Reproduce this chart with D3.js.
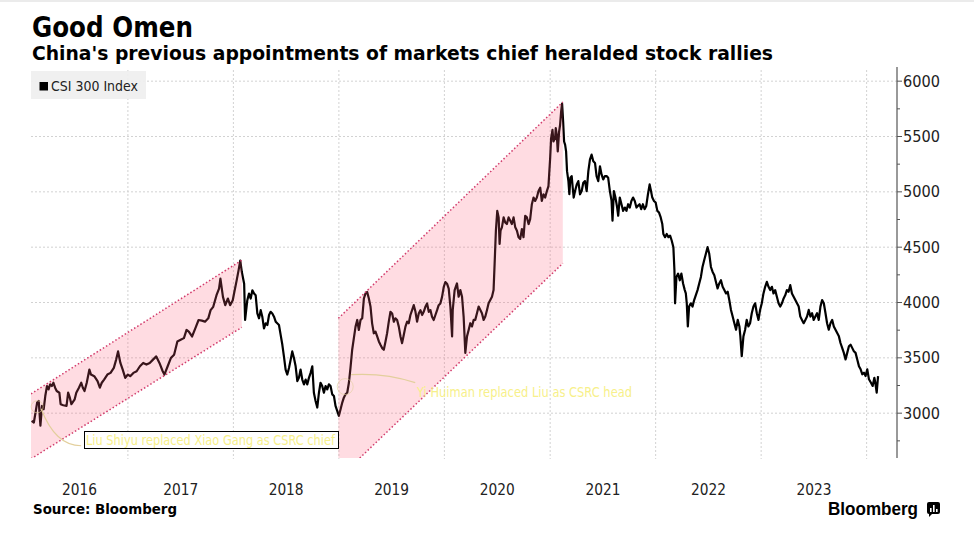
<!DOCTYPE html>
<html><head><meta charset="utf-8">
<script src="https://cdn.jsdelivr.net/npm/d3@7"></script>
<style>body{margin:0;background:#fff}svg{display:block}</style>
</head><body>
<svg id="chart" width="974" height="556"></svg>
<script>
// ---- DATA (decimal years / CSI 300 index values) ----
const years = [2016.090,2016.111,2016.127,2016.142,2016.157,2016.173,2016.188,2016.204,2016.219,2016.235,2016.250,2016.265,2016.281,2016.296,2016.312,2016.327,2016.352,2016.364,2016.389,2016.420,2016.435,2016.451,2016.466,2016.497,2016.512,2016.537,2016.559,2016.574,2016.590,2016.611,2016.636,2016.651,2016.682,2016.713,2016.735,2016.753,2016.775,2016.806,2016.836,2016.867,2016.889,2016.907,2016.929,2016.951,2016.975,
2017.000,2017.022,2017.052,2017.083,2017.114,2017.145,2017.176,2017.207,2017.238,2017.269,2017.299,2017.330,2017.346,2017.377,2017.407,2017.438,2017.469,2017.500,2017.531,2017.556,2017.577,2017.608,2017.639,2017.670,2017.701,2017.731,2017.762,2017.784,2017.809,2017.840,2017.864,2017.877,2017.901,2017.923,2017.948,2017.969,2017.994,
2018.009,2018.031,2018.049,2018.065,2018.080,2018.102,2018.111,2018.132,2018.148,2018.164,2018.180,2018.196,2018.211,2018.227,2018.243,2018.259,2018.274,2018.290,2018.306,2018.322,2018.338,2018.353,2018.369,2018.385,2018.401,2018.416,2018.432,2018.448,2018.464,2018.479,2018.495,2018.511,2018.527,2018.543,2018.558,2018.574,2018.590,2018.606,2018.621,2018.637,2018.653,2018.669,2018.685,2018.700,2018.716,2018.732,2018.748,2018.763,2018.779,2018.795,2018.811,2018.826,2018.842,2018.858,2018.874,2018.890,2018.905,2018.921,2018.937,2018.953,2018.968,2018.984,
2019.000,2019.016,2019.032,2019.047,2019.063,2019.079,2019.095,2019.110,2019.126,2019.142,2019.158,2019.174,2019.189,2019.205,2019.221,2019.237,2019.252,2019.268,2019.284,2019.300,2019.315,2019.331,2019.347,2019.363,2019.379,2019.394,2019.410,2019.426,2019.442,2019.457,2019.473,2019.489,2019.505,2019.521,2019.536,2019.552,2019.568,2019.584,2019.599,2019.615,2019.631,2019.647,2019.662,2019.678,2019.694,2019.710,2019.726,2019.741,2019.757,2019.773,2019.789,2019.804,2019.820,2019.836,2019.852,2019.868,2019.883,2019.899,2019.915,2019.931,2019.946,2019.962,2019.978,2019.994,
2020.009,2020.025,2020.041,2020.057,2020.073,2020.079,2020.097,2020.119,2020.135,2020.151,2020.167,2020.182,2020.198,2020.214,2020.230,2020.245,2020.261,2020.277,2020.292,2020.308,2020.324,2020.340,2020.355,2020.371,2020.387,2020.403,2020.418,2020.434,2020.450,2020.465,2020.475,2020.487,2020.500,2020.513,2020.522,2020.531,2020.544,2020.560,2020.575,2020.591,2020.607,2020.623,2020.638,2020.654,2020.670,2020.686,2020.701,2020.717,2020.733,2020.748,2020.764,2020.780,2020.796,2020.811,2020.827,2020.843,2020.858,2020.874,2020.890,2020.906,2020.921,2020.937,2020.953,2020.969,2020.984,
2021.000,2021.009,2021.022,2021.031,2021.047,2021.053,2021.063,2021.072,2021.085,2021.094,2021.104,2021.113,2021.123,2021.132,2021.142,2021.151,2021.160,2021.173,2021.182,2021.192,2021.204,2021.214,2021.223,2021.236,2021.252,2021.267,2021.283,2021.299,2021.314,2021.330,2021.346,2021.362,2021.377,2021.393,2021.409,2021.425,2021.440,2021.456,2021.472,2021.487,2021.503,2021.519,2021.535,2021.550,2021.566,2021.582,2021.591,2021.604,2021.619,2021.635,2021.645,2021.660,2021.676,2021.692,2021.708,2021.723,2021.739,2021.755,2021.770,2021.786,2021.802,2021.818,2021.832,2021.848,2021.863,2021.879,2021.895,2021.911,2021.927,2021.943,2021.956,2021.968,2021.984,
2022.000,2022.016,2022.032,2022.048,2022.063,2022.073,2022.089,2022.105,2022.121,2022.137,2022.152,2022.168,2022.178,2022.184,2022.197,2022.213,2022.229,2022.244,2022.260,2022.276,2022.286,2022.295,2022.305,2022.317,2022.333,2022.349,2022.365,2022.381,2022.397,2022.413,2022.429,2022.444,2022.460,2022.476,2022.492,2022.508,2022.524,2022.540,2022.556,2022.571,2022.587,2022.603,2022.619,2022.635,2022.651,2022.667,2022.683,2022.698,2022.714,2022.730,2022.746,2022.762,2022.778,2022.794,2022.803,2022.816,2022.832,2022.848,2022.863,2022.879,2022.895,2022.911,2022.927,2022.943,2022.959,2022.975,2022.990,
2023.006,2023.022,2023.038,2023.054,2023.070,2023.086,2023.102,2023.117,2023.133,2023.149,2023.165,2023.181,2023.197,2023.213,2023.229,2023.244,2023.260,2023.276,2023.292,2023.308,2023.324,2023.340,2023.356,2023.371,2023.387,2023.403,2023.419,2023.435,2023.451,2023.467,2023.483,2023.498,2023.514,2023.530,2023.546,2023.562,2023.578,2023.594,2023.610,2023.625,2023.641,2023.657,2023.673,2023.689,2023.705,2023.721,2023.737,2023.752,2023.768,2023.784,2023.800,2023.816,2023.832,2023.848,2023.863,2023.879,2023.895,2023.911,2023.927,2023.943,2023.959,2023.975,2023.990,
2024.006,2024.022,2024.041,2024.057,2024.073,2024.082,2024.095,2024.108];

const values = [2930,2916,3006,3096,3110,2887,3066,3036,3155,3245,3215,3260,3245,3275,3230,3200,3185,3081,3072,3066,3185,3140,3081,3125,3185,3230,3275,3230,3200,3275,3394,3349,3334,3290,3230,3275,3304,3349,3364,3409,3484,3558,3454,3394,3319,
3349,3334,3364,3379,3424,3454,3439,3454,3484,3513,3454,3379,3349,3424,3498,3528,3648,3663,3678,3752,3737,3693,3767,3842,3836,3827,3857,3931,3961,4066,4125,4215,4051,3976,4036,3976,4021,
4095,4200,4290,4379,4275,4170,3842,4021,4081,4036,4110,4081,4066,3901,3857,3931,3872,3767,3812,3797,3887,3916,3901,3872,3827,3812,3797,3707,3618,3513,3394,3349,3409,3484,3558,3498,3424,3290,3319,3394,3304,3260,3304,3260,3319,3364,3424,3185,3110,3051,3185,3275,3245,3185,3245,3215,3260,3245,3170,3155,3066,3021,
2976,3036,3096,3140,3170,3185,3275,3409,3573,3678,3782,3842,3752,3842,3857,4036,4081,4095,4036,3961,3812,3722,3737,3693,3648,3618,3588,3573,3648,3722,3827,3916,3901,3827,3857,3842,3782,3693,3633,3707,3782,3827,3812,3887,3931,3976,3916,3827,3901,3931,3887,3916,3961,3991,3916,3931,3872,3842,3887,3931,3976,3991,4051,4140,
4185,4170,4125,3961,3693,3933,4112,4172,4052,4112,4052,3873,3545,3694,3754,3813,3784,3843,3843,3903,3963,3933,3903,3843,3873,3933,3993,4022,4052,4112,4351,4649,4828,4769,4530,4649,4679,4769,4724,4709,4769,4739,4709,4769,4679,4649,4590,4575,4664,4590,4784,4769,4709,4754,4888,4948,4918,4948,5007,5037,4918,4978,4948,5007,5052,
5306,5485,5560,5455,5485,5575,5515,5366,5545,5604,5724,5798,5634,5455,5425,5366,5187,5097,4978,5127,5142,5037,4948,5007,5067,5097,4978,5007,5082,5097,5007,5187,5291,5336,5276,5261,5142,5097,5231,5157,5112,5142,5142,5127,5007,4918,4739,5007,4948,4858,4784,4948,4888,4828,4858,4828,4888,4858,4918,4948,4918,4858,4873,4888,4843,4888,4843,4873,4978,5067,5007,4948,4918,
4903,4828,4813,4769,4709,4619,4590,4619,4590,4604,4560,4500,4291,3993,4231,4261,4201,4261,4172,4112,4082,3993,3784,3963,3993,3963,4022,4067,4112,4172,4231,4321,4381,4440,4500,4440,4321,4276,4246,4187,4127,4172,4201,4142,4112,4082,4097,4022,3933,3873,3813,3754,3843,3784,3694,3515,3694,3754,3843,3784,3813,3903,3963,3993,3903,3843,3933,
3993,4082,4142,4187,4142,4112,4142,4082,4112,4052,3993,3963,3993,4037,4067,4112,4097,4157,4082,4052,4022,3993,3963,3873,3843,3813,3843,3873,3933,3873,3903,3843,3873,3903,3843,3963,4022,3993,3903,3813,3754,3813,3843,3784,3754,3724,3694,3634,3590,3545,3485,3545,3604,3619,3590,3560,3545,3485,3425,3396,3351,3366,3336,
3396,3306,3275,3246,3320,3275,3186,3335];

// rally channels (two shaded periods)
const rallyStart       = [2016.084, 2018.995];
const rallyEnd         = [2018.080, 2021.120];
const rallyTopStart    = [3174, 3857];
const rallyTopEnd      = [4383, 5812];
const rallyBottomStart = [2588, 2409];
const rallyBottomEnd   = [3776, 4354];

const yTicks = [3000, 3500, 4000, 4500, 5000, 5500, 6000];
const yMinorTicks = [2750, 3250, 3750, 4250, 4750, 5250, 5750];
const yearLabels = [2016, 2017, 2018, 2019, 2020, 2021, 2022, 2023];
const seriesName = "CSI 300 Index";
const annotations = [
  {text: "Liu Shiyu replaced Xiao Gang as CSRC chief", at: 2016.18, value: 3040},
  {text: "Yi Huiman replaced Liu as CSRC head", at: 2019.06, value: 3240}
];

// ---- helpers ----
function decToDate(d){const yr=Math.floor(d);const s=Date.UTC(yr,0,1),e=Date.UTC(yr+1,0,1);return new Date(s+(d-yr)*(e-s));}
const FONT = "'DejaVu Sans', Verdana, sans-serif";

const svg = d3.select("#chart");
const L = 31, R = 897, T = 67, B = 458;
const domainStart = decToDate(2016.084), domainEnd = decToDate(2024.287);
const x = d3.scaleUtc().domain([domainStart, domainEnd]).range([L, R]);
const y = d3.scaleLinear().domain([2595, 6128]).range([B, T]);

// top thin border
svg.append("rect").attr("x",0).attr("y",0).attr("width",974).attr("height",2).attr("fill","#ebebeb");

// titles
svg.append("text").attr("x",32).attr("y",37).attr("font-family",FONT).attr("font-weight","bold")
  .attr("font-size",27.5).attr("textLength",161).attr("lengthAdjust","spacingAndGlyphs").attr("fill","#000").text("Good Omen");
svg.append("text").attr("x",32).attr("y",60).attr("font-family",FONT).attr("font-weight","bold")
  .attr("font-size",19.5).attr("textLength",741).attr("lengthAdjust","spacingAndGlyphs").attr("fill","#000")
  .text("China's previous appointments of markets chief heralded stock rallies");

// clip
svg.append("clipPath").attr("id","plotclip").append("rect").attr("x",L).attr("y",T).attr("width",R-L).attr("height",B-T);

// gridlines
const grid = svg.append("g");
grid.selectAll("line.h").data(yTicks).join("line")
  .attr("x1",L).attr("x2",R).attr("y1",d=>y(d)).attr("y2",d=>y(d))
  .attr("stroke","#d2d2d2").attr("stroke-width",1).attr("stroke-dasharray","2,2");
const yearBounds = d3.utcYear.range(d3.utcYear.ceil(domainStart), domainEnd);
grid.selectAll("line.v").data(yearBounds).join("line")
  .attr("x1",d=>x(d)).attr("x2",d=>x(d)).attr("y1",T+3).attr("y2",B+1)
  .attr("stroke","#d2d2d2").attr("stroke-width",1).attr("stroke-dasharray","2,2");

// series line
const data = d3.zip(years, values).map(([t,v]) => ({date: decToDate(t), value: v}));
svg.append("path").datum(data)
  .attr("d", d3.line().x(d=>x(d.date)).y(d=>y(d.value)))
  .attr("fill","none").attr("stroke","#000").attr("stroke-width",2.2).attr("stroke-linejoin","round");

// rally channels on top
const rg = svg.append("g").attr("clip-path","url(#plotclip)");
rallyStart.forEach((s,i) => {
  const x0 = x(decToDate(s)), x1 = x(decToDate(rallyEnd[i]));
  const pts = [[x0,y(rallyTopStart[i])],[x1,y(rallyTopEnd[i])],[x1,y(rallyBottomEnd[i])],[x0,y(rallyBottomStart[i])]];
  rg.append("polygon").attr("points",pts.map(p=>p.join(",")).join(" "))
    .attr("fill","rgb(255,95,125)").attr("fill-opacity",0.22);
  [[pts[0],pts[1]],[pts[3],pts[2]]].forEach(([a,b]) => {
    rg.append("line").attr("x1",a[0]).attr("y1",a[1]).attr("x2",b[0]).attr("y2",b[1])
      .attr("stroke","#d23c6c").attr("stroke-width",1.5).attr("stroke-dasharray","1.5,2.2");
  });
});

// annotations
const annColor = "#f7f08a", connColor = "#e3cf9c";
{
  const a = annotations[0];
  const px = x(decToDate(a.at)), py = y(a.value);
  svg.append("path").attr("d",`M${px},${py} Q${px+14},${py+37} ${px+40},${py+37}`)
    .attr("fill","none").attr("stroke",connColor).attr("stroke-width",1.2);
  svg.append("circle").attr("cx",px-4).attr("cy",py-2).attr("r",6).attr("fill","none")
    .attr("stroke",connColor).attr("stroke-opacity",0.6);
  svg.append("rect").attr("x",84.5).attr("y",431.5).attr("width",254).attr("height",17)
    .attr("fill","#fff").attr("stroke","#000").attr("stroke-width",1);
  svg.append("text").attr("x",86).attr("y",445).attr("font-family",FONT).attr("font-size",13.5)
    .attr("textLength",249).attr("lengthAdjust","spacingAndGlyphs").attr("fill",annColor).text(a.text);
}
{
  const a = annotations[1];
  const px = x(decToDate(a.at)), py = y(a.value);
  svg.append("circle").attr("cx",px).attr("cy",py).attr("r",8).attr("fill","none")
    .attr("stroke",connColor).attr("stroke-opacity",0.6);
  svg.append("path").attr("d",`M${px+6},${py-12} Q${px+40},${py-14} ${px+70},${py-4}`)
    .attr("fill","none").attr("stroke",connColor).attr("stroke-width",1.2);
  svg.append("text").attr("x",417).attr("y",397).attr("font-family",FONT).attr("font-size",13.5)
    .attr("textLength",215).attr("lengthAdjust","spacingAndGlyphs").attr("fill",annColor).text(a.text);
}

// legend
svg.append("rect").attr("x",31).attr("y",71).attr("width",115).attr("height",28).attr("fill","#efefef").attr("fill-opacity",0.92);
svg.append("rect").attr("x",39.5).attr("y",82).attr("width",8.5).attr("height",8.5).attr("fill","#000");
svg.append("text").attr("x",51).attr("y",91).attr("font-family",FONT).attr("font-size",13.5)
  .attr("textLength",87).attr("lengthAdjust","spacingAndGlyphs").attr("fill","#222").text(seriesName);

// y axis (right)
const ax = svg.append("g");
ax.append("line").attr("x1",R).attr("x2",R).attr("y1",T).attr("y2",B).attr("stroke","#555").attr("stroke-width",1.2);
ax.selectAll("line.maj").data(yTicks).join("line").attr("x1",R).attr("x2",R+5).attr("y1",d=>y(d)).attr("y2",d=>y(d)).attr("stroke","#555");
ax.selectAll("line.min").data(yMinorTicks).join("line").attr("x1",R).attr("x2",R+3).attr("y1",d=>y(d)).attr("y2",d=>y(d)).attr("stroke","#555");
ax.selectAll("text").data(yTicks).join("text")
  .attr("x",903).attr("y",d=>y(d)+5.5).attr("font-family",FONT).attr("font-size",15.5)
  .attr("textLength",37).attr("lengthAdjust","spacingAndGlyphs").attr("fill","#222").text(d=>d3.format("d")(d));

// x labels, centred in the visible part of each year
svg.append("g").selectAll("text").data(yearLabels).join("text")
  .attr("x", yr => { const s = Math.max(Date.UTC(yr,0,1), +domainStart), e = Math.min(Date.UTC(yr+1,0,1), +domainEnd); return (x(new Date(s))+x(new Date(e)))/2; })
  .attr("y",495).attr("text-anchor","middle").attr("font-family",FONT).attr("font-size",16.5)
  .attr("textLength",35).attr("lengthAdjust","spacingAndGlyphs").attr("fill","#222").text(d=>d);

// footer
svg.append("text").attr("x",33).attr("y",514).attr("font-family",FONT).attr("font-weight","bold").attr("font-size",13.5)
  .attr("textLength",144).attr("lengthAdjust","spacingAndGlyphs").attr("fill","#000").text("Source: Bloomberg");
svg.append("text").attr("x",828).attr("y",515).attr("font-family","'Liberation Sans', Arial, sans-serif").attr("font-weight","bold").attr("font-size",17.5)
  .attr("textLength",90).attr("lengthAdjust","spacingAndGlyphs").attr("fill","#000").text("Bloomberg");
const icon = svg.append("g");
icon.append("rect").attr("x",927).attr("y",502).attr("width",13).attr("height",12).attr("rx",2).attr("fill","#000");
icon.append("path").attr("d","M929,513 L929,517 L933,513 Z").attr("fill","#000");
[[930,508,1.6,4],[933,505,1.6,7],[936,509,1.6,3]].forEach(([bx,by,bw,bh]) =>
  icon.append("rect").attr("x",bx).attr("y",by).attr("width",bw).attr("height",bh).attr("fill","#fff"));
</script>
</body></html>
